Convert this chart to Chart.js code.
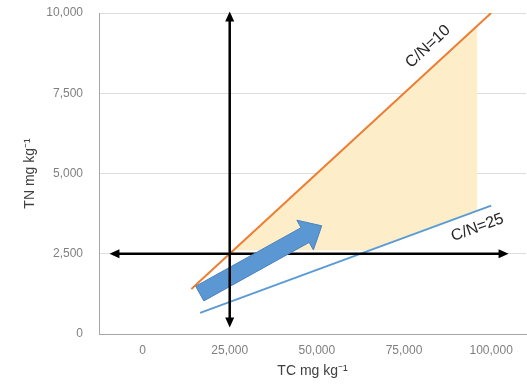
<!DOCTYPE html>
<html><head><meta charset="utf-8">
<script src="https://cdn.jsdelivr.net/npm/chart.js@4.4.1/dist/chart.umd.min.js"></script>
<style>html,body{margin:0;padding:0;background:#fff}#wrap{width:527px;height:385px}</style>
</head><body><div id="wrap"><canvas id="c" width="527" height="385"></canvas></div>
<script>
// ---- data ----
const xTicks = [0, 25000, 50000, 75000, 100000];
const yTicks = [0, 2500, 5000, 7500, 10000];
const cn10Line = [{x: 14000, y: 1400}, {x: 100000, y: 10000}];
const cn25Line = [{x: 16500, y: 660}, {x: 100000, y: 4000}];
const zone = [{x: 26000, y: 2600}, {x: 96000, y: 9600}, {x: 96000, y: 3840}, {x: 65000, y: 2600}];
const vArrow = [{x: 25000, y: 200}, {x: 25000, y: 10050}];
const hArrow = [{x: -9500, y: 2500}, {x: 105000, y: 2500}];
const trendArrow = [{x: 16400, y: 1260}, {x: 51400, y: 3370}];
const lineLabels = ['C/N=10', 'C/N=25'];
const labelAnchorsC = [85400, 94500];
const xTitle = 'TC mg kg\u207B\u00B9';
const yTitle = 'TN mg kg\u207B\u00B9';

// ---- drawing helpers ----
function arrowHead(ctx, p, ang, L, W) {
  const c = Math.cos(ang), s = Math.sin(ang);
  const bx = p.x - c * L, by = p.y - s * L;
  ctx.beginPath();
  ctx.moveTo(p.x, p.y);
  ctx.lineTo(bx - s * W, by + c * W);
  ctx.lineTo(bx + s * W, by - c * W);
  ctx.closePath();
  ctx.fill();
}
function doubleArrow(ctx, a, b) {
  const ang = Math.atan2(b.y - a.y, b.x - a.x);
  const L = 10, W = 4.5;
  const c = Math.cos(ang), s = Math.sin(ang);
  ctx.strokeStyle = '#000'; ctx.fillStyle = '#000'; ctx.lineWidth = 2.5;
  ctx.beginPath();
  ctx.moveTo(a.x + c * L * 0.8, a.y + s * L * 0.8);
  ctx.lineTo(b.x - c * L * 0.8, b.y - s * L * 0.8);
  ctx.stroke();
  arrowHead(ctx, b, ang, L, W);
  arrowHead(ctx, a, ang + Math.PI, L, W);
}
function blockArrow(ctx, a, b) {
  const dx = b.x - a.x, dy = b.y - a.y, len = Math.hypot(dx, dy);
  const ux = dx / len, uy = dy / len, nx = -uy, ny = ux;
  const hw = 8.4, HW = 17, HL = 19;
  const hx = b.x - ux * HL, hy = b.y - uy * HL;
  ctx.beginPath();
  ctx.moveTo(a.x + nx * hw, a.y + ny * hw);
  ctx.lineTo(hx + nx * hw, hy + ny * hw);
  ctx.lineTo(hx + nx * HW, hy + ny * HW);
  ctx.lineTo(b.x, b.y);
  ctx.lineTo(hx - nx * HW, hy - ny * HW);
  ctx.lineTo(hx - nx * hw, hy - ny * hw);
  ctx.lineTo(a.x - nx * hw, a.y - ny * hw);
  ctx.closePath();
  ctx.fillStyle = '#5b97d3';
  ctx.fill();
  ctx.strokeStyle = '#4a82bd';
  ctx.lineWidth = 1;
  ctx.stroke();
}
function lineLabel(ctx, x, y, line, cVal, text, offset) {
  const p0 = {x: x.getPixelForValue(line[0].x), y: y.getPixelForValue(line[0].y)};
  const p1 = {x: x.getPixelForValue(line[1].x), y: y.getPixelForValue(line[1].y)};
  const ang = Math.atan2(p1.y - p0.y, p1.x - p0.x);
  const t = (cVal - line[0].x) / (line[1].x - line[0].x);
  const px = p0.x + (p1.x - p0.x) * t, py = p0.y + (p1.y - p0.y) * t;
  const nx = Math.sin(ang), ny = -Math.cos(ang);
  ctx.save();
  ctx.translate(px + nx * offset, py + ny * offset);
  ctx.rotate(ang);
  ctx.font = '16px "Liberation Sans", Arial, sans-serif';
  ctx.fillStyle = '#262626';
  ctx.textAlign = 'center';
  ctx.textBaseline = 'middle';
  ctx.fillText(text, 0, 0);
  ctx.restore();
}

const overlay = {
  id: 'overlay',
  afterDatasetsDraw(chart) {
    const {ctx, scales: {x, y}} = chart;
    const px = p => ({x: x.getPixelForValue(p.x), y: y.getPixelForValue(p.y)});
    ctx.save();
    doubleArrow(ctx, px(hArrow[0]), px(hArrow[1]));
    blockArrow(ctx, px(trendArrow[0]), px(trendArrow[1]));
    doubleArrow(ctx, px(vArrow[0]), px(vArrow[1]));
    lineLabel(ctx, x, y, cn10Line, labelAnchorsC[0], lineLabels[0], 18);
    lineLabel(ctx, x, y, cn25Line, labelAnchorsC[1], lineLabels[1], -16);
    ctx.restore();
  }
};

const tickFont = {family: '"Liberation Sans", Arial, sans-serif', size: 12};
const titleFont = {family: '"Liberation Sans", Arial, sans-serif', size: 14};

new Chart(document.getElementById('c'), {
  type: 'scatter',
  data: {
    datasets: [
      {label: lineLabels[0], data: cn10Line, showLine: true, borderColor: '#ed7d31', borderWidth: 2, pointRadius: 0, fill: false},
      {label: lineLabels[1], data: cn25Line, showLine: true, borderColor: '#5b9bd5', borderWidth: 2, pointRadius: 0, fill: false},
      {label: 'zone', data: zone, showLine: true, borderWidth: 0, borderColor: 'rgba(0,0,0,0)', backgroundColor: '#fdedc9', pointRadius: 0, fill: 'shape'}
    ]
  },
  options: {
    responsive: false,
    animation: false,
    devicePixelRatio: 1,
    layout: {padding: {top: 13, right: 1, left: 0, bottom: 0}},
    plugins: {legend: {display: false}, tooltip: {enabled: false}},
    scales: {
      x: {
        type: 'linear', min: -12500, max: 110000,
        afterBuildTicks: s => { s.ticks = xTicks.map(v => ({value: v})); },
        afterFit: s => { s.height = 51; },
        grid: {display: false, drawTicks: false},
        border: {display: true, color: '#a6a6a6', width: 1},
        ticks: {font: tickFont, color: '#7f7f7f', padding: 9, maxRotation: 0, callback: v => v.toLocaleString('en-US')},
        title: {display: true, text: xTitle, font: titleFont, color: '#404040', padding: {top: 0, bottom: 5}}
      },
      y: {
        type: 'linear', min: 0, max: 10000,
        afterBuildTicks: s => { s.ticks = yTicks.map(v => ({value: v})); },
        afterFit: s => { s.width = 99; },
        grid: {color: '#dedede', lineWidth: 1, drawTicks: true, tickLength: 13, tickColor: 'rgba(0,0,0,0)'},
        border: {display: true, color: '#a6a6a6', width: 1},
        ticks: {font: tickFont, color: '#7f7f7f', padding: 3, callback: v => v.toLocaleString('en-US')},
        title: {display: true, text: yTitle, font: titleFont, color: '#404040', padding: {top: 22, bottom: 0}}
      }
    }
  },
  plugins: [overlay]
});
</script>
</body></html>
